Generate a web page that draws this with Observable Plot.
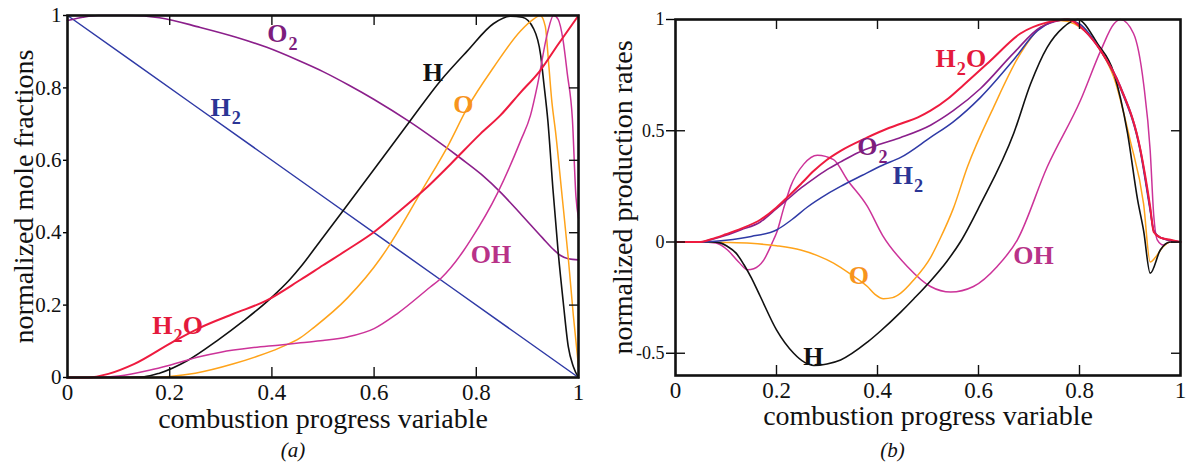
<!DOCTYPE html>
<html><head><meta charset="utf-8">
<script src="https://cdn.jsdelivr.net/npm/d3@7"></script>
<script src="https://cdn.jsdelivr.net/npm/@observablehq/plot@0.6"></script>
<style>
body{margin:0;background:#fff;font-family:"Liberation Serif","Times New Roman",serif;}
#wrap{position:relative;width:1190px;height:469px;overflow:hidden;background:#fff;}
.panel{position:absolute;top:0;width:595px;}
.panel svg{display:block;}
.cap{font-family:"Liberation Serif",serif;font-style:italic;font-size:21px;text-align:center;height:30px;line-height:30px;color:#111;}
</style></head><body>
<div id="wrap"><div class="panel" id="pa" style="left:0"></div><div class="panel" id="pb" style="left:595px"></div></div>
<script>
// ---------- tick values ----------
const xTicks = [0, 0.2, 0.4, 0.6, 0.8, 1];
const yTicksA = [0, 0.2, 0.4, 0.6, 0.8, 1];
const yTicksB = [-0.5, 0, 0.5, 1];

// ---------- texts ----------
const xTitle = "combustion progress variable";
const yTitleA = "normalized mole fractions";
const yTitleB = "normalized production rates";
const capA = "(a)";
const capB = "(b)";

// ---------- panel (a): normalized mole fractions ----------
const aH2 = [[0,1],[0.25,0.75],[0.5,0.5],[0.75,0.25],[1,0]];
const aO2 = [[0,0.986],[0.03,0.995],[0.06,1],[0.12,1],[0.18,0.994],[0.26,0.967],[0.33,0.94],[0.39,0.912],[0.45,0.877],[0.5,0.845],[0.55,0.808],[0.6,0.768],[0.67,0.706],[0.72,0.657],[0.77,0.605],[0.81,0.561],[0.85,0.508],[0.89,0.447],[0.93,0.385],[0.95,0.355],[0.965,0.337],[0.98,0.328],[1,0.325]];
const aH = [[0,0],[0.1,0],[0.15,0.002],[0.18,0.012],[0.235,0.047],[0.293,0.102],[0.345,0.157],[0.397,0.218],[0.436,0.272],[0.456,0.305],[0.495,0.378],[0.54,0.462],[0.6,0.575],[0.671,0.71],[0.73,0.82],[0.783,0.903],[0.834,0.978],[0.867,0.998],[0.89,0.995],[0.912,0.964],[0.926,0.89],[0.932,0.815],[0.94,0.71],[0.95,0.52],[0.96,0.35],[0.97,0.21],[0.98,0.085],[0.99,0.03],[1,0]];
const aO = [[0,0],[0.16,0],[0.2,0.003],[0.25,0.012],[0.325,0.038],[0.37,0.058],[0.415,0.082],[0.456,0.11],[0.482,0.138],[0.548,0.22],[0.613,0.33],[0.632,0.37],[0.697,0.525],[0.743,0.636],[0.783,0.746],[0.834,0.857],[0.887,0.958],[0.912,0.99],[0.925,1],[0.935,0.97],[0.942,0.86],[0.948,0.76],[0.955,0.68],[0.968,0.5],[0.98,0.33],[0.99,0.17],[1,0.03]];
const aOH = [[0,0],[0.065,0],[0.1,0.004],[0.16,0.02],[0.2,0.034],[0.26,0.058],[0.3,0.07],[0.36,0.082],[0.417,0.09],[0.456,0.096],[0.5,0.102],[0.548,0.112],[0.6,0.135],[0.645,0.176],[0.71,0.25],[0.73,0.273],[0.775,0.35],[0.789,0.38],[0.841,0.508],[0.887,0.655],[0.906,0.724],[0.92,0.81],[0.939,0.95],[0.951,1],[0.96,0.99],[0.97,0.93],[0.978,0.84],[0.988,0.715],[0.995,0.5],[1,0.44]];
const aH2O = [[0,0],[0.04,0],[0.08,0.01],[0.13,0.037],[0.208,0.1],[0.26,0.138],[0.325,0.176],[0.39,0.213],[0.456,0.27],[0.5,0.31],[0.55,0.355],[0.6,0.402],[0.65,0.46],[0.697,0.517],[0.75,0.59],[0.808,0.673],[0.847,0.724],[0.885,0.785],[0.925,0.848],[0.96,0.92],[1,1]];

// ---------- panel (b): normalized production rates ----------
const bH2O = [[0,0],[0.05,0],[0.07,0.012],[0.1,0.035],[0.13,0.06],[0.168,0.1],[0.2,0.155],[0.221,0.2],[0.25,0.265],[0.274,0.32],[0.3,0.37],[0.327,0.41],[0.38,0.47],[0.42,0.51],[0.45,0.535],[0.48,0.56],[0.505,0.59],[0.54,0.645],[0.57,0.705],[0.624,0.816],[0.683,0.937],[0.736,0.987],[0.776,1],[0.81,0.95],[0.842,0.86],[0.881,0.695],[0.921,0.41],[0.94,0.157],[0.947,0.045],[0.96,0.02],[0.98,0.01],[1,0]];
const bO2 = [[0,0],[0.05,0],[0.07,0.01],[0.1,0.03],[0.13,0.055],[0.168,0.09],[0.2,0.15],[0.221,0.19],[0.25,0.245],[0.274,0.285],[0.3,0.325],[0.327,0.36],[0.36,0.4],[0.406,0.44],[0.446,0.47],[0.505,0.525],[0.55,0.59],[0.604,0.69],[0.67,0.85],[0.723,0.965],[0.78,1],[0.81,0.95],[0.842,0.86],[0.881,0.7],[0.921,0.41],[0.94,0.15],[0.947,0.05],[0.96,0.02],[1,0]];
const bH2 = [[0,0],[0.05,0],[0.1,0.008],[0.15,0.025],[0.2,0.054],[0.23,0.1],[0.26,0.155],[0.3,0.215],[0.327,0.25],[0.37,0.3],[0.41,0.345],[0.446,0.38],[0.505,0.47],[0.55,0.54],[0.604,0.65],[0.67,0.82],[0.717,0.95],[0.77,1],[0.8,0.98],[0.842,0.86],[0.881,0.69],[0.921,0.4],[0.94,0.14],[0.947,0.05],[0.96,0.02],[1,0]];
const bO = [[0,0],[0.05,0],[0.1,-0.002],[0.149,-0.006],[0.2,-0.017],[0.248,-0.036],[0.28,-0.06],[0.313,-0.095],[0.35,-0.15],[0.38,-0.2],[0.395,-0.235],[0.412,-0.255],[0.43,-0.25],[0.446,-0.23],[0.472,-0.17],[0.505,-0.07],[0.525,0.02],[0.55,0.15],[0.578,0.337],[0.63,0.606],[0.683,0.847],[0.723,0.965],[0.762,0.996],[0.79,0.98],[0.842,0.86],[0.868,0.74],[0.9,0.46],[0.927,0.17],[0.94,-0.09],[0.95,-0.07],[0.966,-0.02],[0.98,0],[1,0]];
const bH = [[0,0],[0.07,0],[0.09,-0.005],[0.103,-0.02],[0.12,-0.05],[0.135,-0.1],[0.15,-0.16],[0.168,-0.245],[0.2,-0.395],[0.234,-0.5],[0.255,-0.54],[0.274,-0.555],[0.3,-0.548],[0.327,-0.53],[0.38,-0.45],[0.406,-0.4],[0.446,-0.315],[0.472,-0.255],[0.505,-0.175],[0.538,-0.085],[0.564,0],[0.604,0.17],[0.67,0.49],[0.703,0.71],[0.736,0.875],[0.768,0.965],[0.796,1],[0.836,0.89],[0.868,0.76],[0.895,0.49],[0.915,0.19],[0.927,0.05],[0.94,-0.14],[0.96,-0.036],[0.98,0],[1,0]];
const bOH = [[0,0],[0.05,0],[0.08,-0.005],[0.103,-0.036],[0.125,-0.09],[0.143,-0.125],[0.155,-0.12],[0.175,-0.08],[0.194,0.009],[0.2,0.04],[0.214,0.15],[0.228,0.25],[0.254,0.35],[0.281,0.39],[0.313,0.37],[0.34,0.28],[0.38,0.16],[0.41,0.03],[0.459,-0.11],[0.505,-0.2],[0.545,-0.225],[0.59,-0.2],[0.637,-0.11],[0.677,0.01],[0.736,0.337],[0.802,0.637],[0.842,0.86],[0.868,0.98],[0.881,1],[0.907,0.937],[0.927,0.71],[0.94,0.41],[0.947,0.12],[0.954,0.01],[0.966,-0.013],[0.98,0],[1,0]];

// ---------- curve labels (name, species, anchor point in data units) ----------
const labelsA = [
  {name:"O_2", sp:"O2", x:0.391, y:0.95},
  {name:"H", sp:"H", x:0.695, y:0.843},
  {name:"H_2", sp:"H2", x:0.280, y:0.746},
  {name:"O", sp:"O", x:0.755, y:0.754},
  {name:"OH", sp:"OH", x:0.789, y:0.340},
  {name:"H_2O", sp:"H2O", x:0.166, y:0.144}
];
const labelsB = [
  {name:"H_2O", sp:"H2O", x:0.515, y:0.825},
  {name:"O_2", sp:"O2", x:0.360, y:0.43},
  {name:"H_2", sp:"H2", x:0.430, y:0.296},
  {name:"O", sp:"O", x:0.343, y:-0.152},
  {name:"OH", sp:"OH", x:0.669, y:-0.063},
  {name:"H", sp:"H", x:0.253, y:-0.516}
];

// ---------- styles ----------
const lineColor = {H2:"#2f3aa6", O2:"#8b1f8b", H:"#111111", O:"#ffa31a", OH:"#cc3399", H2O:"#ee1b3f"};
const labelColor = {H2:"#2b3595", O2:"#7d1d7d", H:"#111111", O:"#f7941d", OH:"#b83288", H2O:"#e41a3c"};
const lineWidth = {H2:1.5, O2:1.6, H:1.6, O:1.5, OH:1.5, H2O:2};

const seriesA = {H2:aH2, O2:aO2, H:aH, O:aO, OH:aOH, H2O:aH2O};
const seriesB = {OH:bOH, O:bO, H:bH, H2:bH2, O2:bO2, H2O:bH2O};

const fmt = d => String(d);
const serif = '"Liberation Serif", "Times New Roman", serif';

function subscripts(svg) {
  d3.select(svg).selectAll("text").each(function() {
    const s = this.textContent;
    if (!s.includes("_")) return;
    const parts = s.split(/_(\d)/);
    this.textContent = "";
    const sel = d3.select(this);
    parts.forEach((p, i) => {
      if (!p) return;
      const ts = sel.append("tspan").text(p);
      if (i % 2 === 1) ts.attr("font-size", "0.7em").attr("dy", 8).attr("dx", 1);
      else if (i > 0) ts.attr("dy", -8);
    });
  });
}

function panel(opts) {
  const {series, labels, yDomain, yTicks, margins, yFont, leftTick, yTitleDx, xTitleDy} = opts;
  const W = 595, H = 435;
  const innerW = W - margins.left - margins.right;
  const innerH = H - margins.top - margins.bottom;
  const innerX = xTicks.filter(d => d > 0 && d < 1);
  const innerY = yTicks.filter(d => d > yDomain[0] && d < yDomain[1]);
  const marks = [];
  for (const [sp, pts] of Object.entries(series)) {
    marks.push(Plot.line(pts, {x: d => d[0], y: d => d[1], stroke: lineColor[sp], strokeWidth: lineWidth[sp], curve: "monotone-x"}));
  }
  marks.push(
    Plot.tickX(innerX, {x: d => d, insetTop: innerH - 10, strokeWidth: 1.4, stroke: "#111"}),
    Plot.tickX(innerX, {x: d => d, insetBottom: innerH - 10, strokeWidth: 1.4, stroke: "#111"}),
    Plot.tickY(innerY, {y: d => d, insetLeft: innerW - 9, strokeWidth: 1.4, stroke: "#111"}),
    Plot.tickY(innerY, {y: d => d, insetRight: innerW - leftTick.inner, strokeWidth: 1.4, stroke: "#111"}),
    Plot.axisX({ticks: xTicks, tickSize: 0, tickPadding: 6, fontSize: 23, fontFamily: serif, tickFormat: fmt, label: null, fill: "#111"}),
    Plot.axisY({ticks: yTicks, tickSize: leftTick.outer, tickPadding: leftTick.pad, fontSize: yFont, fontFamily: serif, tickFormat: fmt, label: null, fill: "#111", strokeWidth: 1.4}),
    Plot.frame({strokeWidth: 2.6, stroke: "#111"}),
    Plot.text([xTitle], {text: d => d, frameAnchor: "bottom", dy: xTitleDy, textAnchor: "middle", lineAnchor: "middle", fontSize: 28, fontFamily: serif, fill: "#111"}),
    Plot.text([opts.yTitle], {text: d => d, frameAnchor: "left", dx: yTitleDx, rotate: -90, textAnchor: "middle", lineAnchor: "middle", fontSize: 28, fontFamily: serif, fill: "#111"}),
    Plot.text(labels, {x: "x", y: "y", text: "name", fill: d => labelColor[d.sp], textAnchor: "start", lineAnchor: "middle", fontSize: 26, fontFamily: serif, fontWeight: "bold"})
  );
  const svg = Plot.plot({
    width: W, height: H,
    marginLeft: margins.left, marginRight: margins.right, marginTop: margins.top, marginBottom: margins.bottom,
    x: {domain: [0, 1]},
    y: {domain: yDomain},
    style: {fontFamily: serif, background: "white", overflow: "visible"},
    marks
  });
  subscripts(svg);
  return svg;
}

const svgA = panel({
  series: seriesA, labels: labelsA, yDomain: [0, 1], yTicks: yTicksA,
  margins: {left: 67, right: 17, top: 15, bottom: 58}, yFont: 21,
  leftTick: {outer: 4, inner: 1, pad: 2}, yTitle: yTitleA, yTitleDx: -43, xTitleDy: 42
});
const svgB = panel({
  series: seriesB, labels: labelsB, yDomain: [-0.6, 1], yTicks: yTicksB,
  margins: {left: 80, right: 10, top: 19, bottom: 60}, yFont: 18,
  leftTick: {outer: 9, inner: 10, pad: 2}, yTitle: yTitleB, yTitleDx: -52, xTitleDy: 41
});

const pa = document.getElementById("pa"), pb = document.getElementById("pb");
pa.appendChild(svgA);
const ca = document.createElement("div"); ca.className = "cap"; ca.textContent = capA; ca.style.paddingRight = "9px"; pa.appendChild(ca);
pb.appendChild(svgB);
const cb = document.createElement("div"); cb.className = "cap"; cb.textContent = capB; pb.appendChild(cb);
</script>
</body></html>
